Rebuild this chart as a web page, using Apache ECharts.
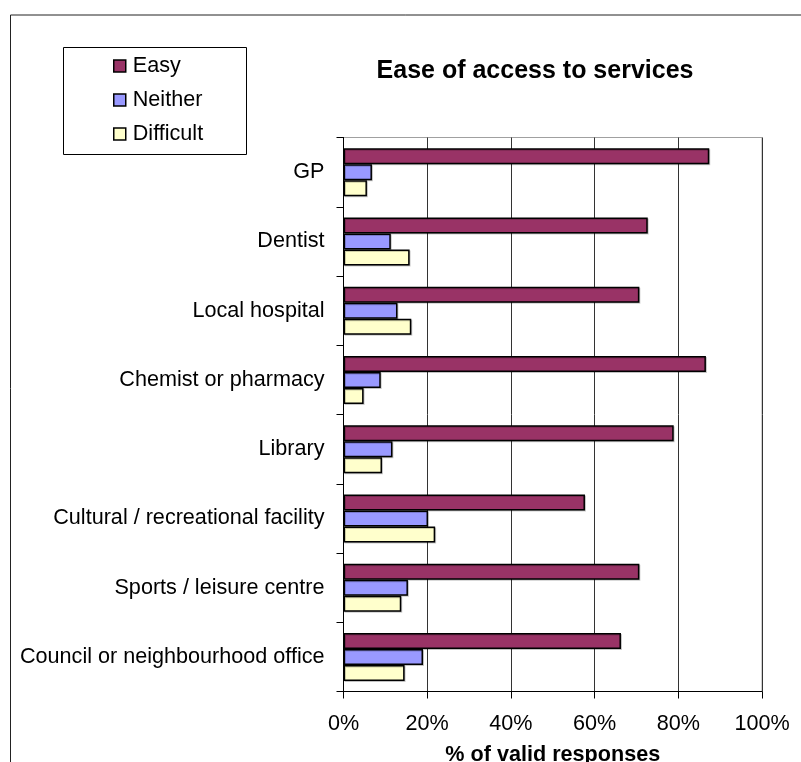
<!DOCTYPE html>
<html>
<head>
<meta charset="utf-8">
<script src="https://cdn.jsdelivr.net/npm/echarts@6/dist/echarts.min.js"></script>
<style>
  html, body { margin: 0; padding: 0; background: #fff; }
  #chart { width: 801px; height: 762px; }
</style>
</head>
<body>
<div id="chart"></div>
<script>
// Survey categories, top to bottom
const categories = [
  'GP',
  'Dentist',
  'Local hospital',
  'Chemist or pharmacy',
  'Library',
  'Cultural / recreational facility',
  'Sports / leisure centre',
  'Council or neighbourhood office'
];

// Share of valid responses (%) for each answer
const easy      = [87.4, 72.7, 70.7, 86.6, 78.9, 57.7, 70.7, 66.3];
const neither   = [6.8, 11.3, 12.9, 8.9, 11.7, 20.2, 15.4, 19.0];
const difficult = [5.6, 15.8, 16.2, 4.8, 9.2, 21.9, 13.8, 14.6];

const seriesNames = ['Easy', 'Neither', 'Difficult'];
const seriesColors = ['#993366', '#9999FF', '#FFFFCC'];
const xTicks = [0, 20, 40, 60, 80, 100];

const FONT = '"Liberation Sans", Arial, sans-serif';
const LABEL_SIZE = 21.6;
const chart = echarts.init(document.getElementById('chart'), null, { renderer: 'canvas' });

const barStyle = (color) => ({
  color: color,
  borderColor: '#000',
  borderWidth: 1.5,
  shadowColor: 'rgba(0,0,0,0.2)',
  shadowOffsetX: 1,
  shadowOffsetY: 1,
  shadowBlur: 0
});

const seriesData = [easy, neither, difficult];

chart.setOption({
  animation: false,
  backgroundColor: '#fff',
  textStyle: { fontFamily: FONT },
  title: {
    text: 'Ease of access to services',
    left: 535,
    top: 59,
    textAlign: 'center',
    padding: 0,
    textStyle: { fontFamily: FONT, fontSize: 25, fontWeight: 'bold', color: '#000' }
  },
  legend: {
    orient: 'vertical',
    left: 113,
    top: 55,
    padding: 0,
    itemWidth: 12,
    itemHeight: 12,
    itemGap: 12,
    icon: 'rect',
    itemStyle: { borderColor: '#000', borderWidth: 1.5 },
    textStyle: { fontFamily: FONT, fontSize: LABEL_SIZE, color: '#000', lineHeight: 21.5, padding: [0, 0, 0, 2] },
    data: seriesNames
  },
  graphic: [
    { type: 'line', shape: { x1: 10.5, y1: 15, x2: 801, y2: 15 }, style: { stroke: '#222', lineWidth: 1 } },
    { type: 'line', shape: { x1: 10.5, y1: 15, x2: 10.5, y2: 762 }, style: { stroke: '#222', lineWidth: 1 } },
    { type: 'rect', shape: { x: 63.5, y: 47.5, width: 183, height: 107 }, style: { fill: 'none', stroke: '#000', lineWidth: 1 }, z: -1 }
  ],
  grid: {
    left: 343.5,
    right: 39,
    top: 137.5,
    bottom: 70.5,
    show: true,
    borderColor: '#a0a0a0',
    borderWidth: 1,
    containLabel: false,
    outerBoundsMode: 'none'
  },
  xAxis: {
    type: 'value',
    min: xTicks[0],
    max: xTicks[xTicks.length - 1],
    interval: 20,
    name: '% of valid responses',
    nameLocation: 'middle',
    nameGap: 53,
    nameTextStyle: { fontFamily: FONT, fontSize: LABEL_SIZE, fontWeight: 'bold', color: '#000' },
    axisLine: { show: true, lineStyle: { color: '#000', width: 1 } },
    axisTick: { show: true, length: 7, lineStyle: { color: '#000' } },
    axisLabel: {
      formatter: (v) => v + '%',
      fontFamily: FONT, fontSize: LABEL_SIZE, color: '#000', margin: 22
    },
    splitLine: { show: true, lineStyle: { color: '#333', width: 1 } }
  },
  yAxis: {
    type: 'category',
    data: categories,
    inverse: true,
    axisLine: { show: true, lineStyle: { color: '#000', width: 1 } },
    axisTick: { show: true, length: 7, lineStyle: { color: '#000' } },
    axisLabel: { fontFamily: FONT, fontSize: LABEL_SIZE, color: '#000', margin: 19 },
    splitLine: { show: false }
  },
  series: seriesNames.map((name, i) => ({
    name: name,
    type: 'bar',
    data: seriesData[i],
    barWidth: 16,
    barGap: '0%',
    itemStyle: barStyle(seriesColors[i])
  }))
});
</script>
</body>
</html>
